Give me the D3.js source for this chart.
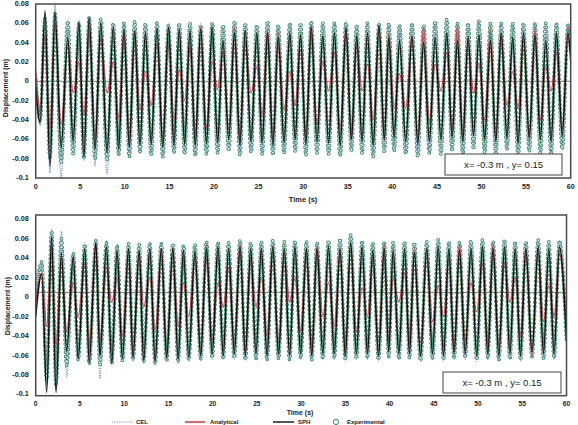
<!DOCTYPE html>
<html>
<head>
<meta charset="utf-8">
<script src="https://cdn.jsdelivr.net/npm/d3@7"></script>
<style>
  body { margin: 0; background: #fff; }
  svg { display: block; font-family: "Liberation Sans", Arial, sans-serif; }
</style>
</head>
<body>
<svg width="578" height="425"></svg>
<script>
// tick labels
const timeTicks = [0, 5, 10, 15, 20, 25, 30, 35, 40, 45, 50, 55, 60];
const dispTicks = [0.08, 0.06, 0.04, 0.02, 0, -0.02, -0.04, -0.06, -0.08, -0.1];
const legendNames = ["CEL", "Analytical", "SPH", "Experimental"];

// top panel: times of successive peaks / troughs (s)
const timesA = [
  0, 0.5, 1.04, 1.6, 2.16, 2.85, 3.6, 4.2, 4.85, 5.4,
  6.0, 6.65, 7.3, 8.0, 8.7, 9.3, 9.9, 10.5, 11.1, 11.7,
  12.3, 12.95, 13.6, 14.25, 14.9, 15.5, 16.1, 16.7, 17.3, 17.9,
  18.5, 19.15, 19.8, 20.4, 21.0, 21.65, 22.3, 22.9, 23.5, 24.15,
  24.8, 25.4, 26.0, 26.6, 27.2, 27.85, 28.5, 29.1, 29.7, 30.3,
  30.9, 31.55, 32.2, 32.85, 33.5, 34.15, 34.8, 35.4, 36.0, 36.6,
  37.2, 37.85, 38.5, 39.1, 39.6, 40.2, 40.8, 41.5, 42.2, 42.85,
  43.5, 44.15, 44.8, 45.45, 46.1, 46.7, 47.3, 47.9, 48.5, 49.1,
  49.7, 50.35, 51.0, 51.6, 52.2, 52.85, 53.5, 54.1, 54.7, 55.35,
  56.0, 56.6, 57.2, 57.8, 58.4, 59.05, 59.7, 60
];
const celA = [
  0.0, -0.046, 0.07, -0.095, 0.08, -0.1, 0.064, -0.07, 0.063, -0.082,
  0.067, -0.088, 0.063, -0.096, 0.06, -0.076, 0.06, -0.078, 0.058, -0.075,
  0.058, -0.074, 0.062, -0.077, 0.06, -0.075, 0.059, -0.074, 0.057, -0.076,
  0.06, -0.074, 0.06, -0.072, 0.056, -0.07, 0.06, -0.075, 0.058, -0.072,
  0.058, -0.074, 0.06, -0.076, 0.057, -0.073, 0.06, -0.07, 0.058, -0.074,
  0.062, -0.072, 0.057, -0.074, 0.06, -0.076, 0.062, -0.07, 0.058, -0.072,
  0.06, -0.076, 0.062, -0.072, 0.058, -0.07, 0.057, -0.074, 0.06, -0.076,
  0.056, -0.074, 0.06, -0.072, 0.062, -0.07, 0.058, -0.074, 0.06, -0.068,
  0.062, -0.072, 0.057, -0.074, 0.06, -0.07, 0.058, -0.075, 0.06, -0.07,
  0.06, -0.072, 0.058, -0.074, 0.06, -0.068, 0.06, 0.03
];
const analyticalA = [
  0.012, -0.03, 0.048, -0.05, 0.06, -0.045, 0.04, -0.012, 0.02, -0.035,
  0.05, -0.058, 0.045, -0.012, 0.02, -0.038, 0.05, -0.06, 0.052, -0.03,
  0.01, -0.025, 0.04, -0.06, 0.055, -0.04, 0.012, -0.02, 0.035, -0.055,
  0.056, -0.048, 0.02, -0.008, 0.03, -0.05, 0.056, -0.058, 0.04, -0.012,
  0.015, -0.035, 0.052, -0.06, 0.05, -0.03, 0.01, -0.025, 0.045, -0.06,
  0.057, -0.045, 0.02, -0.01, 0.03, -0.05, 0.055, -0.06, 0.038, -0.01,
  0.018, -0.04, 0.055, -0.062, 0.05, -0.028, 0.008, -0.028, 0.048, -0.06,
  0.056, -0.042, 0.018, -0.01, 0.03, -0.05, 0.058, -0.058, 0.04, -0.012,
  0.018, -0.04, 0.055, -0.06, 0.048, -0.025, 0.01, -0.028, 0.045, -0.06,
  0.055, -0.04, 0.015, -0.01, 0.03, -0.05, 0.056, 0.045
];
const sphA = [
  -0.005, -0.043, 0.073, -0.088, 0.072, -0.068, 0.045, -0.062, 0.061, -0.078,
  0.066, -0.07, 0.06, -0.073, 0.056, -0.07, 0.054, -0.068, 0.052, -0.066,
  0.05, -0.065, 0.055, -0.068, 0.056, -0.066, 0.054, -0.065, 0.052, -0.066,
  0.054, -0.064, 0.056, -0.063, 0.042, -0.06, 0.05, -0.066, 0.053, -0.062,
  0.05, -0.064, 0.05, -0.066, 0.045, -0.063, 0.05, -0.06, 0.048, -0.065,
  0.056, -0.062, 0.047, -0.064, 0.05, -0.066, 0.055, -0.06, 0.047, -0.062,
  0.05, -0.066, 0.058, -0.06, 0.045, -0.058, 0.042, -0.062, 0.046, -0.064,
  0.04, -0.062, 0.045, -0.06, 0.05, -0.058, 0.042, -0.062, 0.046, -0.056,
  0.048, -0.06, 0.042, -0.062, 0.05, -0.058, 0.045, -0.064, 0.05, -0.058,
  0.048, -0.06, 0.042, -0.062, 0.05, -0.056, 0.05, 0.02
];
const expA = [
  0.002, -0.04, 0.065, -0.08, 0.07, -0.085, 0.062, -0.075, 0.06, -0.08,
  0.066, -0.08, 0.064, -0.082, 0.06, -0.076, 0.06, -0.078, 0.062, -0.074,
  0.06, -0.076, 0.06, -0.078, 0.058, -0.074, 0.06, -0.075, 0.06, -0.077,
  0.058, -0.075, 0.06, -0.074, 0.058, -0.072, 0.062, -0.076, 0.06, -0.073,
  0.058, -0.075, 0.062, -0.076, 0.058, -0.074, 0.06, -0.072, 0.06, -0.076,
  0.062, -0.074, 0.06, -0.075, 0.06, -0.077, 0.06, -0.072, 0.058, -0.074,
  0.06, -0.078, 0.06, -0.074, 0.06, -0.072, 0.058, -0.075, 0.06, -0.078,
  0.058, -0.074, 0.062, -0.075, 0.064, -0.072, 0.06, -0.076, 0.06, -0.07,
  0.062, -0.074, 0.06, -0.076, 0.06, -0.07, 0.06, -0.078, 0.06, -0.072,
  0.06, -0.074, 0.06, -0.076, 0.06, -0.07, 0.058, 0.03
];

// bottom panel
const timesB = [
  0, 0.68, 1.24, 1.8, 2.3, 2.9, 3.5, 4.25, 4.8, 5.55,
  6.05, 6.8, 7.26, 8.0, 8.6, 9.2, 9.8, 10.5, 11.0, 11.7,
  12.2, 12.9, 13.5, 14.2, 14.8, 15.5, 16.1, 16.7, 17.3, 18.0,
  18.65, 19.3, 19.95, 20.6, 21.2, 21.8, 22.45, 23.1, 23.7, 24.3,
  24.9, 25.5, 26.15, 26.8, 27.45, 28.1, 28.7, 29.3, 29.95, 30.6,
  31.2, 31.8, 32.45, 33.1, 33.75, 34.4, 35.0, 35.6, 36.25, 36.9,
  37.5, 38.1, 38.75, 39.4, 39.9, 40.4, 41.05, 41.7, 42.25, 42.8,
  43.5, 44.2, 44.85, 45.5, 46.1, 46.7, 47.3, 47.9, 48.55, 49.2,
  49.85, 50.5, 51.1, 51.7, 52.35, 53.0, 53.6, 54.2, 54.8, 55.4,
  56.1, 56.8, 57.4, 58.0, 58.6, 59.2, 60
];
const celB = [
  0.0, 0.038, -0.09, 0.07, -0.095, 0.068, -0.082, 0.046, -0.066, 0.056,
  -0.07, 0.06, -0.084, 0.058, -0.07, 0.055, -0.066, 0.054, -0.066, 0.052,
  -0.068, 0.056, -0.07, 0.056, -0.066, 0.054, -0.068, 0.054, -0.066, 0.052,
  -0.065, 0.056, -0.064, 0.056, -0.064, 0.055, -0.064, 0.057, -0.065, 0.055,
  -0.064, 0.056, -0.066, 0.057, -0.064, 0.056, -0.065, 0.057, -0.064, 0.056,
  -0.066, 0.055, -0.064, 0.057, -0.064, 0.058, -0.066, 0.062, -0.064, 0.057,
  -0.064, 0.055, -0.066, 0.056, -0.062, 0.055, -0.064, 0.056, -0.064, 0.054,
  -0.066, 0.056, -0.064, 0.058, -0.066, 0.056, -0.064, 0.055, -0.064, 0.057,
  -0.066, 0.058, -0.064, 0.056, -0.066, 0.058, -0.064, 0.056, -0.066, 0.056,
  -0.062, 0.058, -0.064, 0.056, -0.064, 0.058, -0.048
];
const analyticalB = [
  -0.005, 0.025, -0.03, 0.05, -0.05, 0.04, -0.035, 0.015, -0.02, 0.035,
  -0.05, 0.055, -0.045, 0.03, -0.005, 0.02, -0.04, 0.05, -0.058, 0.045,
  -0.01, 0.02, -0.035, 0.05, -0.06, 0.05, -0.03, 0.015, -0.02, 0.04,
  -0.055, 0.055, -0.045, 0.015, -0.01, 0.03, -0.05, 0.055, -0.058, 0.04,
  -0.01, 0.02, -0.04, 0.052, -0.06, 0.045, -0.005, 0.02, -0.035, 0.05,
  -0.06, 0.052, -0.02, 0.015, -0.03, 0.045, -0.058, 0.055, -0.035, 0.01,
  -0.02, 0.04, -0.055, 0.055, -0.045, 0.02, -0.005, 0.025, -0.045, 0.05,
  -0.06, 0.05, -0.025, 0.012, -0.02, 0.04, -0.055, 0.055, -0.045, 0.015,
  -0.015, 0.035, -0.055, 0.055, -0.05, 0.035, -0.005, 0.02, -0.04, 0.05,
  -0.06, 0.05, -0.025, 0.012, -0.02, 0.045, -0.03
];
const sphB = [
  -0.02, 0.024, -0.098, 0.062, -0.098, 0.045, -0.055, 0.042, -0.063, 0.05,
  -0.067, 0.056, -0.06, 0.052, -0.068, 0.048, -0.063, 0.05, -0.062, 0.048,
  -0.065, 0.05, -0.066, 0.05, -0.062, 0.05, -0.064, 0.048, -0.062, 0.047,
  -0.06, 0.05, -0.058, 0.052, -0.06, 0.05, -0.058, 0.052, -0.06, 0.05,
  -0.058, 0.05, -0.06, 0.052, -0.058, 0.05, -0.06, 0.052, -0.058, 0.05,
  -0.06, 0.05, -0.058, 0.052, -0.058, 0.05, -0.06, 0.056, -0.058, 0.052,
  -0.058, 0.048, -0.06, 0.05, -0.056, 0.048, -0.058, 0.05, -0.058, 0.046,
  -0.06, 0.05, -0.058, 0.052, -0.06, 0.05, -0.058, 0.048, -0.058, 0.05,
  -0.06, 0.052, -0.058, 0.05, -0.06, 0.052, -0.058, 0.05, -0.06, 0.05,
  -0.056, 0.052, -0.058, 0.05, -0.058, 0.052, -0.045
];
const expB = [
  0.002, 0.036, -0.085, 0.068, -0.09, 0.06, -0.07, 0.045, -0.064, 0.054,
  -0.068, 0.058, -0.07, 0.056, -0.068, 0.053, -0.065, 0.055, -0.064, 0.054,
  -0.066, 0.055, -0.068, 0.055, -0.065, 0.055, -0.066, 0.053, -0.064, 0.054,
  -0.063, 0.057, -0.062, 0.056, -0.063, 0.056, -0.062, 0.058, -0.064, 0.056,
  -0.063, 0.057, -0.064, 0.058, -0.063, 0.057, -0.064, 0.058, -0.062, 0.057,
  -0.064, 0.056, -0.063, 0.058, -0.062, 0.06, -0.064, 0.064, -0.063, 0.058,
  -0.062, 0.056, -0.064, 0.057, -0.061, 0.056, -0.063, 0.057, -0.062, 0.056,
  -0.065, 0.057, -0.063, 0.059, -0.064, 0.057, -0.063, 0.056, -0.062, 0.058,
  -0.064, 0.059, -0.062, 0.057, -0.064, 0.059, -0.063, 0.057, -0.064, 0.057,
  -0.061, 0.059, -0.063, 0.057, -0.062, 0.058, -0.046
];

const colors = { cel: "#6f8fb8", ana: "#c4474f", sph: "#111111", exp: "#3a8f6a" };

const svg = d3.select("svg");

function drawPanel(p) {
  const x = d3.scaleLinear().domain([0, 60]).range([p.left, p.right]);
  const y = d3.scaleLinear().domain([p.yMin, p.yMax]).range([p.bottom, p.top]);
  const g = svg.append("g");

  g.append("line")
    .attr("x1", p.left).attr("x2", p.right)
    .attr("y1", y(p.refLine)).attr("y2", y(p.refLine))
    .attr("stroke", "#555").attr("stroke-width", 0.8);

  const clipId = "clip" + p.id;
  g.append("clipPath").attr("id", clipId)
    .append("rect")
    .attr("x", p.left).attr("y", p.top - 2)
    .attr("width", p.right - p.left).attr("height", p.bottom - p.top + 2);

  const plot = g.append("g").attr("clip-path", `url(#${clipId})`);
  const line = d3.line()
    .x((d) => x(d[0]))
    .y((d) => y(d[1]))
    .curve(d3.curveMonotoneX);
  const pts = (vals) => p.times.map((t, i) => [t, vals[i]]).filter((d) => d[1] !== undefined);

  // experimental: hollow circle markers along the measured trace
  plot.append("path").datum(pts(p.exp))
    .attr("d", line).attr("fill", "none")
    .attr("stroke", colors.exp).attr("stroke-width", 3.8)
    .attr("stroke-linecap", "round").attr("stroke-dasharray", "0,4.2");
  plot.append("path").datum(pts(p.exp))
    .attr("d", line).attr("fill", "none")
    .attr("stroke", "#fff").attr("stroke-width", 1.8)
    .attr("stroke-linecap", "round").attr("stroke-dasharray", "0,4.2");

  plot.append("path").datum(pts(p.cel))
    .attr("d", line).attr("fill", "none")
    .attr("stroke", colors.cel).attr("stroke-width", 1.1)
    .attr("stroke-dasharray", "1.2,1.2");

  plot.append("path").datum(pts(p.ana))
    .attr("d", line).attr("fill", "none")
    .attr("stroke", colors.ana).attr("stroke-width", 1.3);

  plot.append("path").datum(pts(p.sph))
    .attr("d", line).attr("fill", "none")
    .attr("stroke", colors.sph).attr("stroke-width", 1.5);

  // frame
  g.append("rect")
    .attr("x", p.left).attr("y", p.top)
    .attr("width", p.right - p.left).attr("height", p.bottom - p.top)
    .attr("fill", "none").attr("stroke", "#4a4a4a").attr("stroke-width", 1.5);

  // y tick labels
  g.selectAll(".yt").data(dispTicks).enter().append("text")
    .attr("x", p.left - 7).attr("y", (d) => y(d))
    .attr("text-anchor", "end").attr("dominant-baseline", "middle")
    .attr("font-size", 7.2).attr("font-weight", "bold").attr("fill", "#222")
    .text((d) => (d === 0 ? "0" : String(d)));

  // x tick labels
  g.selectAll(".xt").data(timeTicks).enter().append("text")
    .attr("x", (d) => x(d)).attr("y", p.bottom + p.tickDy)
    .attr("text-anchor", "middle").attr("dominant-baseline", "middle")
    .attr("font-size", p.tickSize).attr("font-weight", "bold").attr("fill", "#222")
    .text((d) => d);

  g.append("text")
    .attr("x", p.titleX).attr("y", p.bottom + p.titleDy)
    .attr("text-anchor", "middle").attr("dominant-baseline", "middle")
    .attr("font-size", p.titleSize).attr("font-weight", "bold").attr("fill", "#222")
    .text("Time (s)");

  g.append("text")
    .attr("transform", `translate(${p.yLabelX},${p.yLabelY}) rotate(-90)`)
    .attr("text-anchor", "middle").attr("dominant-baseline", "middle")
    .attr("font-size", 7).attr("font-weight", "bold").attr("fill", "#222")
    .text("Displacement (m)");

  // position note
  g.append("rect")
    .attr("x", p.box[0]).attr("y", p.box[1])
    .attr("width", p.box[2]).attr("height", p.box[3])
    .attr("fill", "#fff").attr("stroke", "#444").attr("stroke-width", 1);
  g.append("text")
    .attr("x", p.box[0] + p.box[2] / 2).attr("y", p.box[1] + p.box[3] / 2 + 0.5)
    .attr("text-anchor", "middle").attr("dominant-baseline", "middle")
    .attr("font-size", 9.5).attr("fill", "#222")
    .text("x= -0.3 m , y= 0.15");
}

drawPanel({
  id: "A", times: timesA, cel: celA, ana: analyticalA, sph: sphA, exp: expA,
  left: 35.7, right: 570.7, top: 4, bottom: 178, yMin: -0.1, yMax: 0.08, refLine: 0,
  tickDy: 9.5, tickSize: 7.2, titleX: 303, titleDy: 22, titleSize: 7.5,
  yLabelX: 6, yLabelY: 88, box: [445, 154, 117, 21]
});

drawPanel({
  id: "B", times: timesB, cel: celB, ana: analyticalB, sph: sphB, exp: expB,
  left: 35.7, right: 566.5, top: 215, bottom: 395.7, yMin: -0.1012, yMax: 0.0846, refLine: 0.005,
  tickDy: 8.6, tickSize: 6.6, titleX: 300, titleDy: 17, titleSize: 7,
  yLabelX: 8, yLabelY: 306, box: [443, 372, 118, 21]
});

// legend
const legend = svg.append("g").attr("font-size", 6).attr("font-weight", "bold").attr("fill", "#222");
const ly = 422;
const legendItems = [
  { name: legendNames[0], x: 112, tx: 136 },
  { name: legendNames[1], x: 185, tx: 210 },
  { name: legendNames[2], x: 273, tx: 298 },
  { name: legendNames[3], x: 333, tx: 347 }
];
legendItems.forEach((d, i) => {
  if (i === 0) {
    legend.append("line").attr("x1", d.x).attr("x2", d.x + 21).attr("y1", ly).attr("y2", ly)
      .attr("stroke", colors.cel).attr("stroke-width", 1.1).attr("stroke-dasharray", "1.2,1.2");
  } else if (i === 1) {
    legend.append("line").attr("x1", d.x).attr("x2", d.x + 20).attr("y1", ly).attr("y2", ly)
      .attr("stroke", colors.ana).attr("stroke-width", 1.6);
  } else if (i === 2) {
    legend.append("line").attr("x1", d.x).attr("x2", d.x + 21).attr("y1", ly).attr("y2", ly)
      .attr("stroke", colors.sph).attr("stroke-width", 1.4);
  } else {
    legend.append("circle").attr("cx", d.x + 3).attr("cy", ly).attr("r", 2.6)
      .attr("fill", "none").attr("stroke", colors.exp).attr("stroke-width", 1);
  }
  legend.append("text").attr("x", d.tx).attr("y", ly).attr("dominant-baseline", "middle").text(d.name);
});
</script>
</body>
</html>
